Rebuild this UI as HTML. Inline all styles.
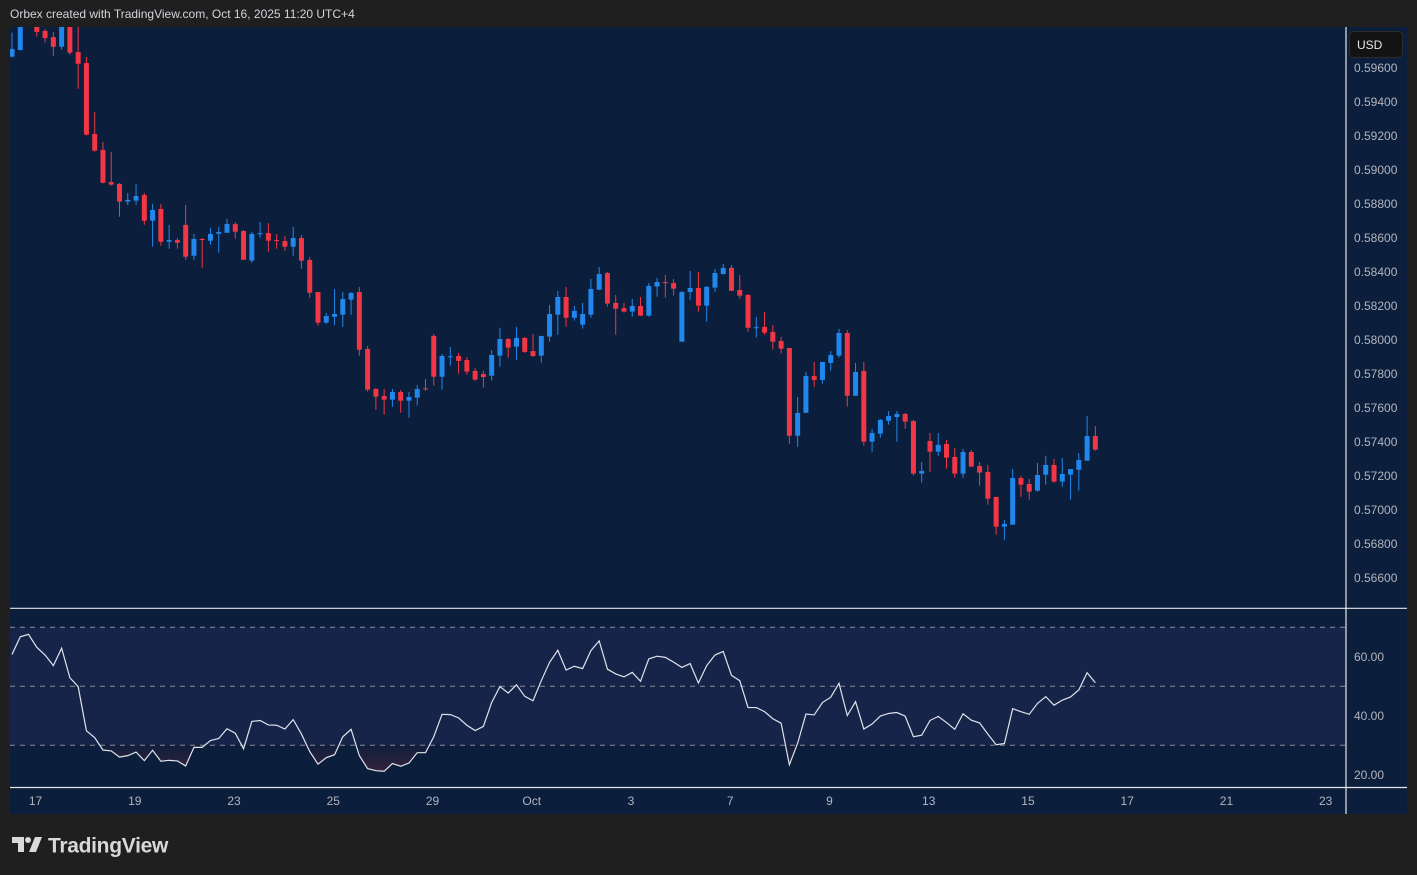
<!DOCTYPE html>
<html><head><meta charset="utf-8">
<style>
html,body{margin:0;padding:0;background:#1f1f1f;width:1417px;height:875px;overflow:hidden;font-family:"Liberation Sans",sans-serif;}
svg{display:block}
</style></head>
<body>
<svg id="chart" width="1417" height="875" xmlns="http://www.w3.org/2000/svg">
  <rect x="0" y="0" width="1417" height="875" fill="#1f1f1f"/>
  <text x="10" y="18" fill="#d1d4dc" font-size="12">Orbex created with TradingView.com, Oct 16, 2025 11:20 UTC+4</text>
  <rect x="10" y="27" width="1397" height="787" fill="#0b1e3b"/>
  <defs>
    <clipPath id="mainClip"><rect x="10" y="27" width="1336" height="581"/></clipPath>
    <clipPath id="rsiClip"><rect x="10" y="609" width="1336" height="178"/></clipPath>
    <clipPath id="below30"><rect x="10" y="745.3" width="1336" height="42"/></clipPath>
    <linearGradient id="osGrad" gradientUnits="userSpaceOnUse" x1="0" y1="745" x2="0" y2="775">
      <stop offset="0" stop-color="#f23645" stop-opacity="0.02"/>
      <stop offset="1" stop-color="#f23645" stop-opacity="0.2"/>
    </linearGradient>
  </defs>
  <g id="mainPane" clip-path="url(#mainClip)"></g>
  <g id="rsiPane"></g>
  <line x1="1346" y1="27" x2="1346" y2="814" stroke="#e6e6e6" stroke-width="1.2"/>
  <line x1="10" y1="608.3" x2="1407" y2="608.3" stroke="#e6e6e6" stroke-width="1.2"/>
  <line x1="10" y1="787.5" x2="1407" y2="787.5" stroke="#e6e6e6" stroke-width="1.2"/>
  <g id="priceAxis"></g>
  <g id="rsiAxis"></g>
  <g id="timeAxis"></g>
  <g>
    <rect x="1349.5" y="31.5" width="53" height="26" rx="4" fill="#131313" stroke="#2c2c2c"/>
    <text x="1357" y="49" fill="#e6e6e6" font-size="12">USD</text>
  </g>
  <g>
    <path d="M12 837 H24 V852 H18 V843 H12 Z" fill="#d9d9d9"/>
    <circle cx="28" cy="840" r="3" fill="#d9d9d9"/>
    <path d="M35 837 H42 L36 852 H29 Z" fill="#d9d9d9"/>
    <text x="48" y="852.5" fill="#d9d9d9" font-size="21" font-weight="bold" letter-spacing="-0.3">TradingView</text>
  </g>
</svg>
<script>
const opens=[0.59667,0.59706,0.59870,0.59880,0.59818,0.59782,0.59725,0.59870,0.59694,0.59629,0.59212,0.59118,0.58929,0.58918,0.58814,0.58820,0.58853,0.58702,0.58771,0.58578,0.58588,0.58677,0.58496,0.58594,0.58584,0.58625,0.58631,0.58682,0.58641,0.58467,0.58627,0.58629,0.58588,0.58582,0.58549,0.58600,0.58471,0.58282,0.58102,0.58137,0.58149,0.58237,0.58282,0.57947,0.57712,0.57671,0.57649,0.57694,0.57643,0.57661,0.57716,0.58024,0.57784,0.57903,0.57906,0.57882,0.57818,0.57800,0.57790,0.57908,0.58006,0.57961,0.58012,0.57935,0.57908,0.58020,0.58149,0.58253,0.58131,0.58090,0.58149,0.58296,0.58394,0.58218,0.58188,0.58167,0.58200,0.58143,0.58314,0.58340,0.58335,0.57990,0.58282,0.58306,0.58202,0.58308,0.58388,0.58424,0.58294,0.58265,0.58074,0.58077,0.58047,0.57994,0.57953,0.57437,0.57572,0.57788,0.57765,0.57865,0.57908,0.58041,0.57672,0.57818,0.57402,0.57449,0.57525,0.57547,0.57565,0.57524,0.57214,0.57406,0.57343,0.57388,0.57312,0.57214,0.57341,0.57259,0.57224,0.57077,0.56902,0.56914,0.57188,0.57153,0.57114,0.57208,0.57265,0.57167,0.57208,0.57237,0.57290,0.57435];
const highs=[0.59808,0.59882,0.59930,0.59900,0.59829,0.59812,0.59900,0.59900,0.59880,0.59665,0.59341,0.59165,0.59106,0.58924,0.58865,0.58918,0.58865,0.58800,0.58800,0.58677,0.58600,0.58794,0.58624,0.58600,0.58659,0.58665,0.58712,0.58694,0.58647,0.58635,0.58694,0.58688,0.58624,0.58612,0.58665,0.58618,0.58487,0.58282,0.58159,0.58300,0.58282,0.58282,0.58312,0.57965,0.57718,0.57712,0.57712,0.57706,0.57694,0.57735,0.57771,0.58035,0.57918,0.57959,0.57924,0.57900,0.57835,0.57818,0.57941,0.58071,0.58012,0.58077,0.58018,0.58035,0.58024,0.58206,0.58288,0.58312,0.58200,0.58218,0.58359,0.58429,0.58400,0.58265,0.58218,0.58241,0.58253,0.58335,0.58365,0.58382,0.58359,0.58288,0.58406,0.58400,0.58318,0.58418,0.58447,0.58441,0.58382,0.58271,0.58135,0.58165,0.58088,0.58018,0.57953,0.57665,0.57812,0.57871,0.57871,0.57935,0.58065,0.58059,0.57865,0.57871,0.57477,0.57535,0.57582,0.57582,0.57571,0.57530,0.57282,0.57453,0.57453,0.57412,0.57365,0.57359,0.57353,0.57282,0.57265,0.57077,0.56941,0.57241,0.57200,0.57183,0.57277,0.57318,0.57300,0.57306,0.57241,0.57335,0.57553,0.57494];
const lows=[0.59661,0.59703,0.59850,0.59784,0.59749,0.59672,0.59708,0.59678,0.59478,0.59203,0.59108,0.58921,0.58909,0.58725,0.58794,0.58794,0.58678,0.58549,0.58555,0.58537,0.58537,0.58472,0.58472,0.58425,0.58561,0.58514,0.58630,0.58596,0.58471,0.58455,0.58602,0.58519,0.58537,0.58525,0.58496,0.58419,0.58249,0.58084,0.58096,0.58088,0.58078,0.58149,0.57908,0.57696,0.57590,0.57561,0.57608,0.57572,0.57543,0.57614,0.57700,0.57731,0.57708,0.57849,0.57802,0.57796,0.57761,0.57720,0.57761,0.57843,0.57896,0.57884,0.57924,0.57900,0.57867,0.57990,0.58031,0.58078,0.58114,0.58067,0.58131,0.58294,0.58196,0.58031,0.58161,0.58137,0.58141,0.58137,0.58255,0.58249,0.58261,0.57990,0.58237,0.58167,0.58108,0.58284,0.58385,0.58288,0.58243,0.58049,0.58014,0.58031,0.57943,0.57920,0.57390,0.57372,0.57570,0.57725,0.57743,0.57820,0.57896,0.57608,0.57671,0.57378,0.57343,0.57425,0.57502,0.57402,0.57478,0.57202,0.57161,0.57225,0.57320,0.57243,0.57190,0.57190,0.57253,0.57143,0.57031,0.56855,0.56825,0.56912,0.57078,0.57061,0.57108,0.57149,0.57161,0.57137,0.57061,0.57114,0.57290,0.57349];
const closes=[0.59712,0.59871,0.59900,0.59812,0.59776,0.59725,0.59859,0.59690,0.59625,0.59208,0.59114,0.58925,0.58914,0.58814,0.58824,0.58847,0.58702,0.58765,0.58578,0.58588,0.58572,0.58490,0.58594,0.58591,0.58624,0.58635,0.58682,0.58637,0.58472,0.58624,0.58628,0.58584,0.58585,0.58549,0.58600,0.58467,0.58278,0.58102,0.58141,0.58153,0.58241,0.58277,0.57943,0.57708,0.57667,0.57649,0.57694,0.57643,0.57665,0.57712,0.57714,0.57784,0.57906,0.57904,0.57877,0.57814,0.57767,0.57782,0.57912,0.58006,0.57955,0.58012,0.57930,0.57906,0.58024,0.58153,0.58253,0.58131,0.58171,0.58153,0.58300,0.58388,0.58214,0.58184,0.58167,0.58200,0.58143,0.58318,0.58341,0.58337,0.58302,0.58282,0.58306,0.58202,0.58312,0.58394,0.58424,0.58290,0.58261,0.58072,0.58075,0.58043,0.57990,0.57949,0.57437,0.57571,0.57788,0.57765,0.57871,0.57912,0.58041,0.57672,0.57812,0.57402,0.57453,0.57530,0.57553,0.57565,0.57520,0.57214,0.57230,0.57343,0.57383,0.57308,0.57214,0.57341,0.57255,0.57220,0.57067,0.56902,0.56918,0.57188,0.57149,0.57108,0.57206,0.57265,0.57167,0.57212,0.57241,0.57294,0.57435,0.57355];
const rsiValues=[60.8,66.8,67.6,63.2,60.6,57.0,62.9,52.9,49.9,34.9,32.6,28.4,28.1,26.0,26.5,27.7,24.8,28.3,24.6,24.9,24.7,23.0,29.3,29.3,31.6,32.3,35.6,34.1,28.8,38.1,38.4,36.9,36.8,35.5,38.7,33.8,27.9,23.6,25.8,26.8,32.9,35.4,26.5,22.1,21.4,21.2,23.8,22.9,24.0,27.5,27.5,32.9,40.5,40.4,39.3,36.8,35.0,36.4,44.5,49.9,47.7,50.5,46.6,45.1,51.9,58.1,62.2,55.5,56.8,56.0,62.1,65.4,55.8,54.2,53.2,54.7,51.7,59.3,60.2,59.8,58.2,56.4,57.7,51.1,57.0,60.6,61.8,53.7,51.9,42.8,42.8,41.4,39.0,37.5,23.4,30.7,40.6,40.3,44.5,46.3,51.0,40.1,44.8,35.5,37.2,39.9,40.8,41.1,39.9,32.9,33.4,38.4,39.8,37.7,35.4,40.7,38.5,37.6,33.8,30.2,30.6,42.4,41.4,40.5,44.2,46.5,43.6,45.3,46.4,48.8,54.6,51.2];
const priceTicks=[0.566,0.568,0.570,0.572,0.574,0.576,0.578,0.580,0.582,0.584,0.586,0.588,0.590,0.592,0.594,0.596];
const rsiTicks=[20,40,60];
const rsiLevels=[70,50,30];
const timeLabels=["17","19","23","25","29","Oct","3","7","9","13","15","17","21","23"];
const timeLabelIndex=[2.85,14.85,26.85,38.85,50.85,62.85,74.85,86.85,98.85,110.85,122.85,134.85,146.85,158.85];

const NS="http://www.w3.org/2000/svg";
const xOf=i=>12+i*8.27;
const yP=p=>68+(0.596-p)*17000;
const yR=v=>686.3-(v-50)*2.95;
function mk(tag,attrs,parent){const e=document.createElementNS(NS,tag);for(const k in attrs)e.setAttribute(k,attrs[k]);parent.appendChild(e);return e;}

const main=document.getElementById('mainPane');
for(let i=0;i<opens.length;i++){
  const up=closes[i]>=opens[i];
  const col=up?'#2287ec':'#f23645';
  const g=mk('g',{},main);
  
  
  const x=xOf(i);
  mk('line',{x1:x,x2:x,y1:yP(highs[i]),y2:yP(lows[i]),stroke:col,'stroke-width':1},g);
  const top=yP(Math.max(opens[i],closes[i])),bot=yP(Math.min(opens[i],closes[i]));
  mk('rect',{x:x-2.5,y:top,width:5,height:Math.max(1,bot-top),fill:col},g);
}

const pa=document.getElementById('priceAxis');
priceTicks.forEach(p=>{
  const t=mk('text',{x:1354,y:yP(p)+4,fill:'#b2b5be','font-size':12},pa);
  
  
  t.textContent=p.toFixed(5);
});

const rp=document.getElementById('rsiPane');
const band=mk('rect',{x:10,y:yR(70),width:1336,height:yR(30)-yR(70),fill:'#172449'},rp);


rsiLevels.forEach(l=>{
  const ln=mk('line',{x1:10,x2:1346,y1:yR(l),y2:yR(l),stroke:'#8a8d96','stroke-width':1,'stroke-dasharray':'5,5'},rp);
  
  
});
let d='';
rsiValues.forEach((v,i)=>{d+=(i?'L':'M')+xOf(i).toFixed(2)+' '+yR(v).toFixed(2);});
const areaD=d+'L'+xOf(rsiValues.length-1).toFixed(2)+' 745.3L'+xOf(0).toFixed(2)+' 745.3Z';
const os=mk('path',{d:areaD,fill:'url(#osGrad)','clip-path':'url(#below30)'},rp);


const rl=mk('path',{d:d,fill:'none',stroke:'#e0e3eb','stroke-width':1.2,'clip-path':'url(#rsiClip)'},rp);



const ra=document.getElementById('rsiAxis');
rsiTicks.forEach(v=>{
  const t=mk('text',{x:1354,y:yR(v)+4,fill:'#b2b5be','font-size':12},ra);
  
  
  t.textContent=v.toFixed(2);
});

const ta=document.getElementById('timeAxis');
timeLabels.forEach((s,k)=>{
  const t=mk('text',{x:xOf(timeLabelIndex[k]),y:805,fill:'#b2b5be','font-size':12,'text-anchor':'middle'},ta);
  
  
  t.textContent=s;
});
</script>
</body></html>
